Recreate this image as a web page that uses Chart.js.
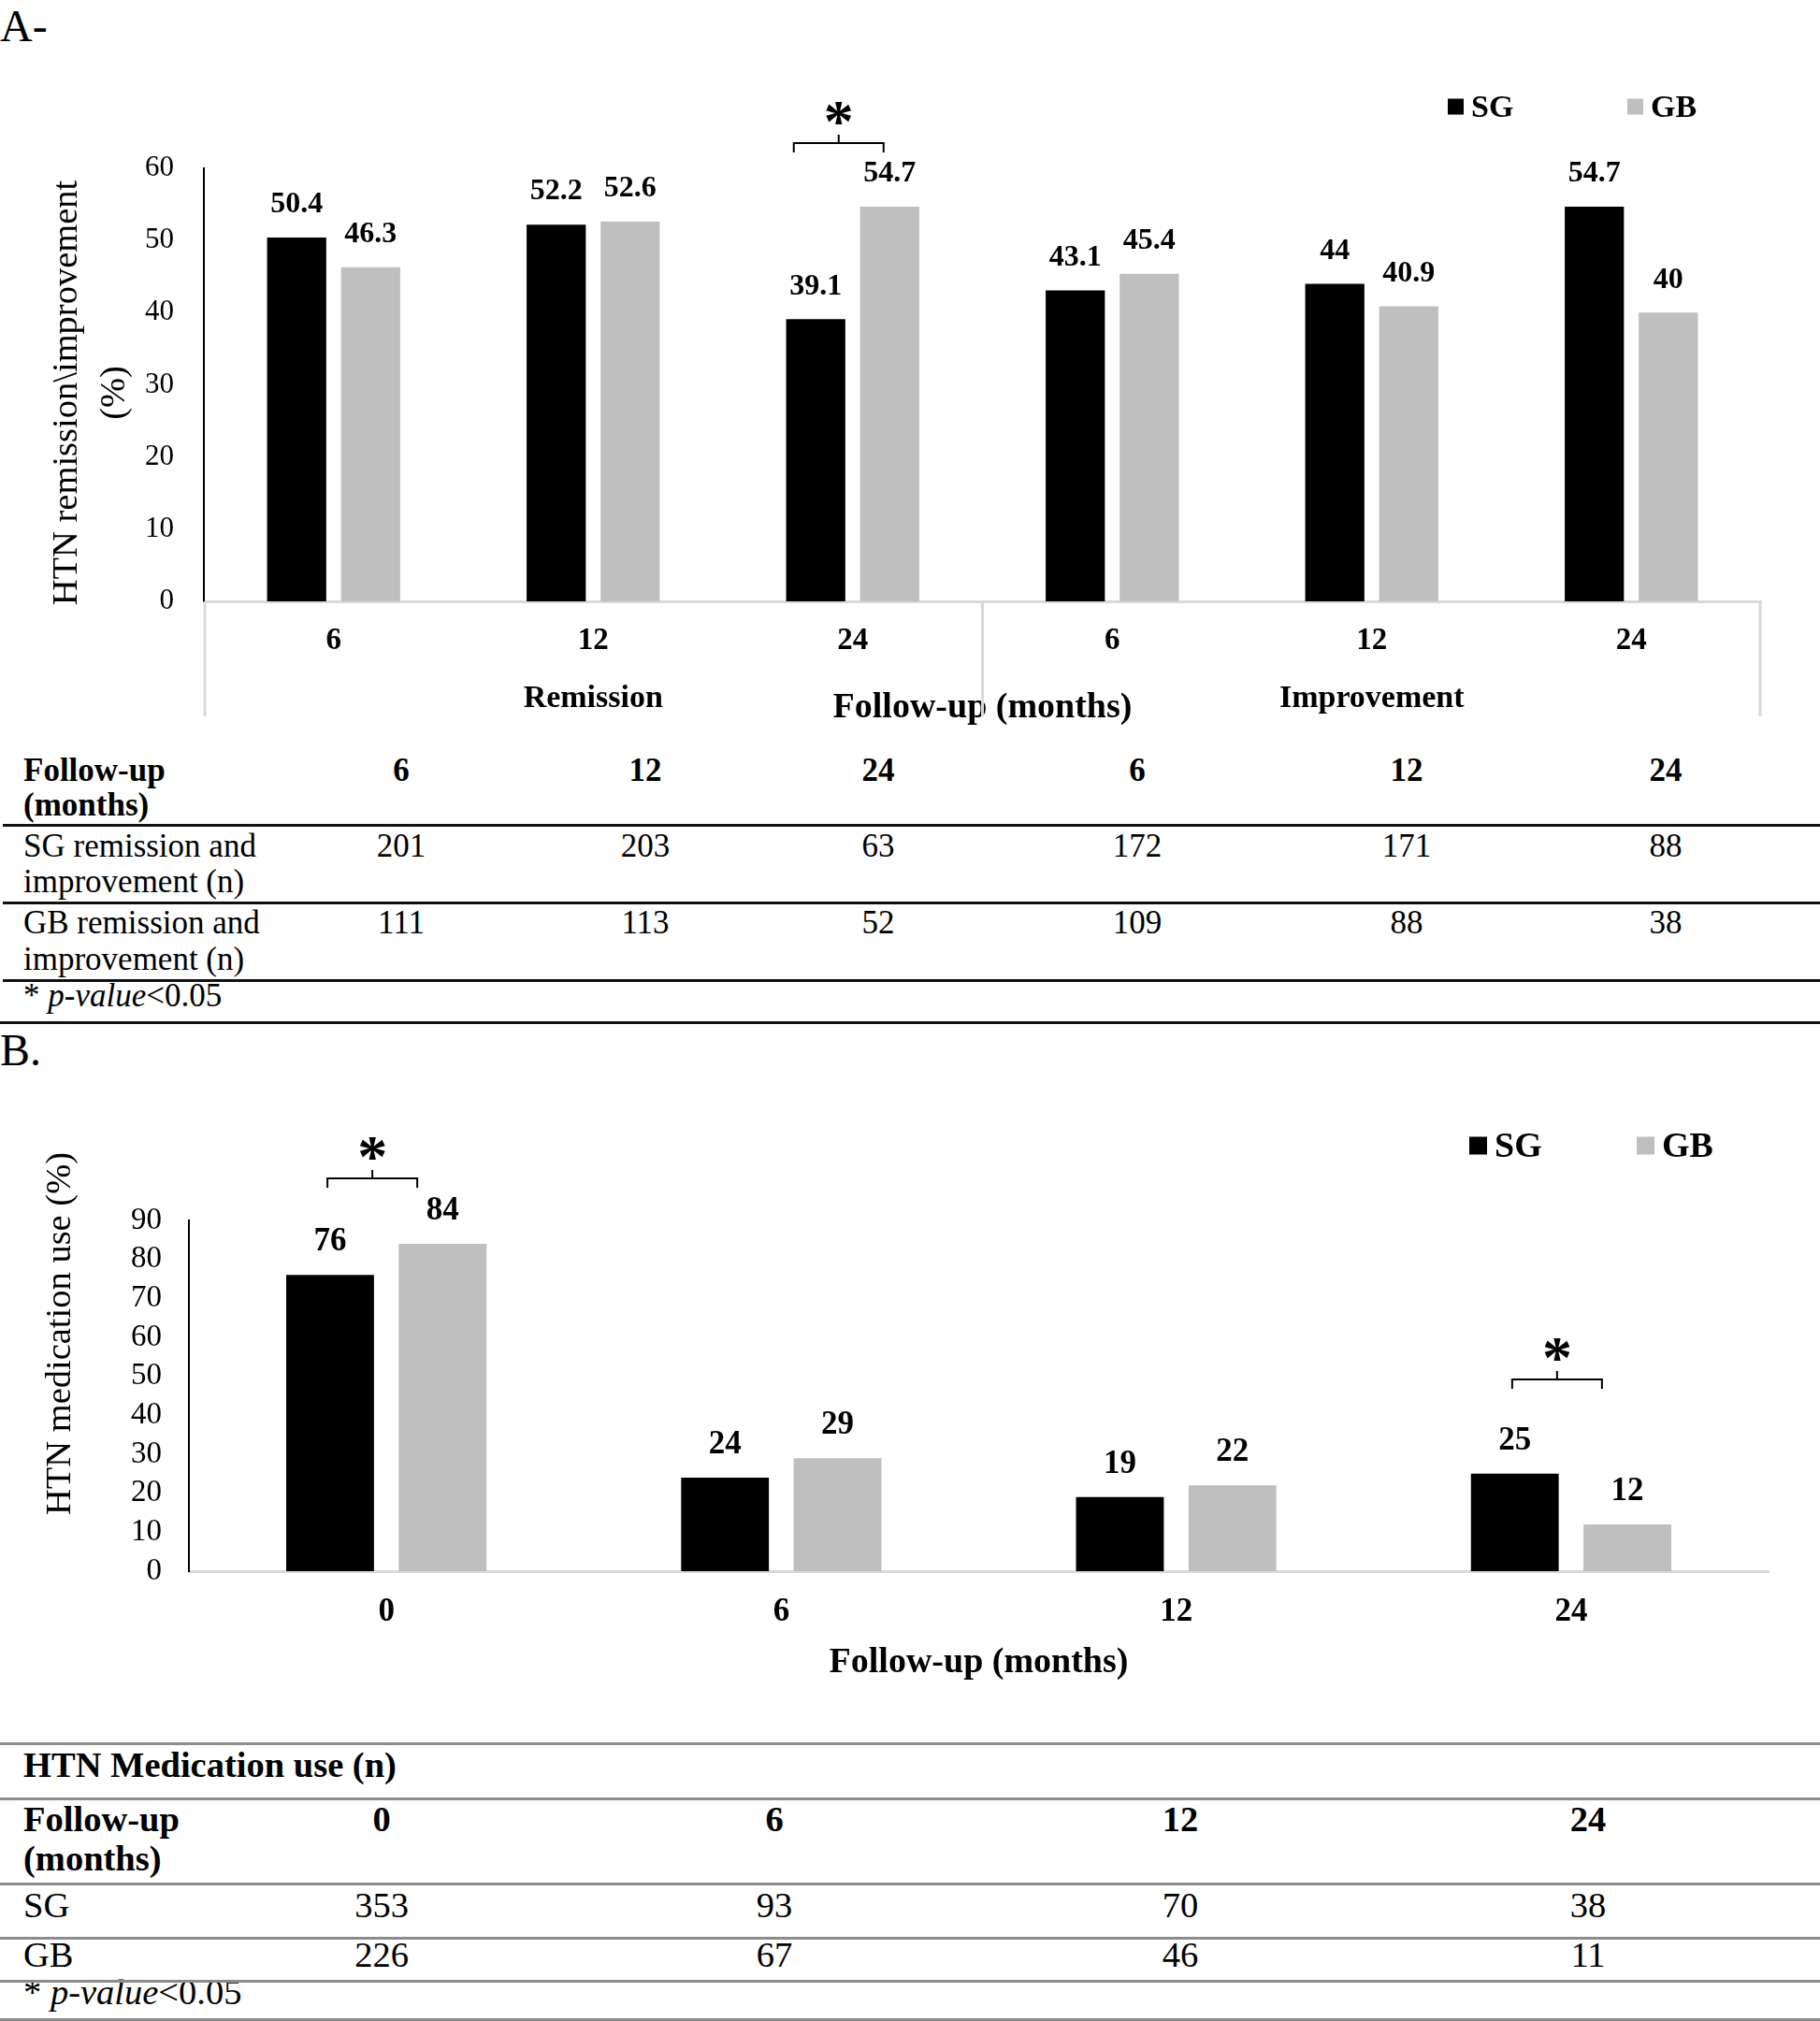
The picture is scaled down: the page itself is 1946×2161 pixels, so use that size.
<!DOCTYPE html>
<html>
<head>
<meta charset="utf-8">
<script src="https://cdn.jsdelivr.net/npm/chart.js@4.4.1/dist/chart.umd.min.js"></script>
<style>
  body { margin: 0; background: #fff; width: 1946px; height: 2161px; position: relative; overflow: hidden;
         font-family: 'Liberation Serif', 'Times New Roman', serif; color: #000; }
  .t { position: absolute; white-space: nowrap; }
  .c { transform: translateX(-50%); text-align: center; }
  .rule { position: absolute; right: 0; }
  canvas { position: absolute; left: 0; }
</style>
</head>
<body>
<div class="t" style="left:0;top:4px;font-size:48px;line-height:48px">A-</div>
<div class="t" style="left:0;top:1099px;font-size:48px;line-height:48px">B.</div>
<canvas id="chartA" width="1946" height="800" style="top:0;width:1946px;height:800px"></canvas>
<canvas id="chartB" width="1946" height="760" style="top:1100px;width:1946px;height:760px"></canvas>

<script>
// ─── Data ──────────────────────────────────────────────────────────────────
const monthsA = ['6', '12', '24', '6', '12', '24'];
const groupsA = ['Remission', 'Improvement'];
const sgA = [50.4, 52.2, 39.1, 43.1, 44, 54.7];
const gbA = [46.3, 52.6, 54.7, 45.4, 40.9, 40];
const sigA = [2];            // category index with * (p<0.05)
const sigLevelA = [63.5];    // bracket height, axis units

const monthsB = ['0', '6', '12', '24'];
const sgB = [76, 24, 19, 25];
const gbB = [84, 29, 22, 12];
const sigB = [0, 3];
const sigLevelB = [100.8, 49.2];

const sgNA = [201, 203, 63, 172, 171, 88];
const gbNA = [111, 113, 52, 109, 88, 38];
const sgNB = [353, 93, 70, 38];
const gbNB = [226, 67, 46, 11];

const FONT = "'Liberation Serif', 'Times New Roman', serif";
const SG_COLOR = '#000000', GB_COLOR = '#bfbfbf';

// ─── Annotation plugin: value labels, legend, brackets, y title, groups ────
const annotate = {
  id: 'annotate',
  afterDraw(chart, args, o) {
    const ctx = chart.ctx, xs = chart.scales.x, ys = chart.scales.y;
    ctx.save();
    ctx.fillStyle = '#000';
    ctx.textAlign = 'center';

    // values over bars
    ctx.font = `bold ${o.valueSize}px ${FONT}`;
    ctx.textBaseline = 'middle';
    chart.data.datasets.forEach((ds, i) => {
      chart.getDatasetMeta(i).data.forEach((bar, j) => ctx.fillText(String(ds.data[j]), bar.x, bar.y - o.valueGap));
    });

    // significance brackets
    o.sig.forEach((idx, k) => {
      const cx = xs.getPixelForValue(idx) - 15, by = ys.getPixelForValue(o.sigLevel[k]), hw = 48;
      ctx.strokeStyle = '#000'; ctx.lineWidth = 2;
      ctx.beginPath();
      ctx.moveTo(cx - hw, by + 10); ctx.lineTo(cx - hw, by); ctx.lineTo(cx + hw, by); ctx.lineTo(cx + hw, by + 10);
      ctx.moveTo(cx, by); ctx.lineTo(cx, by - 9);
      ctx.stroke();
      ctx.font = `bold 64px ${FONT}`;
      ctx.textBaseline = 'alphabetic';
      ctx.fillText('*', cx, by - 2);
    });

    // legend
    const lg = o.legend;
    chart.data.datasets.forEach((ds, i) => {
      ctx.fillStyle = ds.backgroundColor;
      ctx.fillRect(lg.x[i], lg.y - lg.box / 2, lg.box, lg.box);
      ctx.fillStyle = '#000';
      ctx.font = `bold ${lg.size}px ${FONT}`;
      ctx.textAlign = 'left'; ctx.textBaseline = 'middle';
      ctx.fillText(ds.label, lg.x[i] + lg.box + 8, lg.y + 2);
    });

    // y axis title
    const yt = o.yTitle;
    ctx.font = `${yt.size}px ${FONT}`;
    ctx.textAlign = 'center'; ctx.textBaseline = 'middle';
    yt.lines.forEach((line, i) => {
      ctx.save();
      ctx.translate(yt.x + i * yt.gap, yt.y);
      ctx.rotate(-Math.PI / 2);
      ctx.fillText(line, 0, 0);
      ctx.restore();
    });

    // category groups under the x axis
    if (o.groups) {
      const per = chart.data.labels.length / o.groups.length;
      const half = (xs.getPixelForValue(1) - xs.getPixelForValue(0)) / 2;
      ctx.strokeStyle = '#d9d9d9'; ctx.lineWidth = 3;
      for (let g = 0; g <= o.groups.length; g++) {
        const gx = g === 0 ? xs.left + 1 : g === o.groups.length ? xs.right - 1 : xs.getPixelForValue(g * per) - half;
        ctx.beginPath(); ctx.moveTo(gx, ys.bottom); ctx.lineTo(gx, o.groupLineEnd); ctx.stroke();
      }
      ctx.font = `bold 34px ${FONT}`;
      ctx.fillStyle = '#000';
      o.groups.forEach((name, g) => {
        const gx = (xs.getPixelForValue(g * per) + xs.getPixelForValue(g * per + per - 1)) / 2;
        ctx.fillText(name, gx, o.groupY);
      });
    }
    ctx.restore();
  }
};

function makeChart(id, labels, sg, gb, cfg) {
  return new Chart(document.getElementById(id), {
    type: 'bar',
    data: {
      labels,
      datasets: [
        { label: 'SG', data: sg, backgroundColor: SG_COLOR },
        { label: 'GB', data: gb, backgroundColor: GB_COLOR }
      ]
    },
    options: {
      responsive: false, animation: false, events: [],
      layout: { padding: { top: cfg.top, right: cfg.right, left: 0, bottom: 0 } },
      datasets: { bar: { categoryPercentage: 0.57, barPercentage: cfg.barPct } },
      scales: {
        x: {
          grid: { display: false, drawTicks: false },
          border: { color: '#d9d9d9', width: 3 },
          ticks: { color: '#000', padding: cfg.xPad, font: { family: FONT, size: cfg.xSize, weight: 'bold' } },
          title: { display: true, text: 'Follow-up (months)', color: '#000',
                   font: { family: FONT, size: 38, weight: 'bold' }, padding: { top: 0, bottom: cfg.titlePad } },
          afterFit: s => { s.height = cfg.xHeight; }
        },
        y: {
          min: 0, max: cfg.max,
          grid: { display: false, drawTicks: false },
          border: { color: '#000', width: 2 },
          ticks: { stepSize: 10, autoSkip: false, color: '#000', padding: cfg.yPad, font: { family: FONT, size: cfg.ySize } },
          afterFit: s => { s.width = cfg.yWidth; }
        }
      },
      plugins: { legend: { display: false }, tooltip: { enabled: false }, annotate: cfg.annotate }
    },
    plugins: [annotate]
  });
}

makeChart('chartA', monthsA, sgA, gbA, {
  top: 180, right: 63, barPct: 0.8, xPad: 23, xSize: 33, titlePad: 20, xHeight: 157,
  max: 60, yPad: 32, ySize: 31, yWidth: 218,
  annotate: {
    valueSize: 32, valueGap: 35, sig: sigA, sigLevel: sigLevelA,
    legend: { x: [1548, 1740], y: 114, box: 17, size: 34 },
    yTitle: { lines: ['HTN remission\\improvement', '(%)'], x: 72, y: 420, gap: 51, size: 38.5 },
    groups: groupsA, groupY: 747, groupLineEnd: 766
  }
});

makeChart('chartB', monthsB, sgB, gbB, {
  top: 205, right: 55, barPct: 0.78, xPad: 23, xSize: 35, titlePad: 59, xHeight: 180,
  max: 90, yPad: 29, ySize: 33, yWidth: 202,
  annotate: {
    valueSize: 35, valueGap: 35, sig: sigB, sigLevel: sigLevelB,
    legend: { x: [1571, 1750], y: 125, box: 19, size: 38 },
    yTitle: { lines: ['HTN medication use (%)'], x: 65, y: 326, gap: 0, size: 38.5 }
  }
});

// ─── Tables (HTML text) ────────────────────────────────────────────────────
function put(html, left, top, fs, lh, extra) {
  const d = document.createElement('div');
  d.className = 't' + (extra && extra.center ? ' c' : '');
  d.style.left = left + 'px'; d.style.top = top + 'px';
  d.style.fontSize = fs + 'px'; d.style.lineHeight = lh + 'px';
  if (extra && extra.bold) d.style.fontWeight = 'bold';
  d.innerHTML = html;
  document.body.appendChild(d);
}
function rule(y, color, w, x0) {
  const d = document.createElement('div');
  d.className = 'rule';
  d.style.left = x0 + 'px'; d.style.top = (y - w / 2) + 'px';
  d.style.height = w + 'px'; d.style.background = color;
  document.body.appendChild(d);
}
// top of a text box from its first baseline
const topOf = (base, fs, lh) => base - lh / 2 - 0.3375 * fs;

// table A
const colXA = [429, 690, 939, 1216, 1504, 1781];
const fa = 35;
put('Follow-up<br>(months)', 25, topOf(835, fa, 37), fa, 37, { bold: true });
monthsA.forEach((m, i) => put(m, colXA[i], topOf(835, fa, 37), fa, 37, { bold: true, center: true }));
put('SG remission and<br>improvement (n)', 25, topOf(917, fa, 38), fa, 38);
sgNA.forEach((v, i) => put(String(v), colXA[i], topOf(917, fa, 38), fa, 38, { center: true }));
put('GB remission and<br>improvement (n)', 25, topOf(998, fa, 39), fa, 39);
gbNA.forEach((v, i) => put(String(v), colXA[i], topOf(998, fa, 39), fa, 39, { center: true }));
put('* <i>p-value</i>&lt;0.05', 25, topOf(1077, fa, 38), fa, 38);
rule(882, '#111', 3, 3); rule(965, '#111', 3, 3); rule(1048, '#111', 3, 3); rule(1093, '#111', 3, 0);

// table B
const colXB = [408, 828, 1262, 1698];
const fb = 38.5;
put('HTN Medication use (n)', 25, topOf(1900, fb, 40), fb, 40, { bold: true });
put('Follow-up<br>(months)', 25, topOf(1958, fb, 42), fb, 42, { bold: true });
monthsB.forEach((m, i) => put(m, colXB[i], topOf(1958, fb, 42), fb, 42, { bold: true, center: true }));
put('SG', 25, topOf(2050, fb, 40), fb, 40);
sgNB.forEach((v, i) => put(String(v), colXB[i], topOf(2050, fb, 40), fb, 40, { center: true }));
put('GB', 25, topOf(2103, fb, 40), fb, 40);
gbNB.forEach((v, i) => put(String(v), colXB[i], topOf(2103, fb, 40), fb, 40, { center: true }));
put('* <i>p-value</i>&lt;0.05', 25, topOf(2143, fb, 40), fb, 40);
[1864, 1923, 2014, 2072, 2118, 2159].forEach(y => rule(y, '#8c8c8c', 3, 0));
</script>
</body>
</html>
